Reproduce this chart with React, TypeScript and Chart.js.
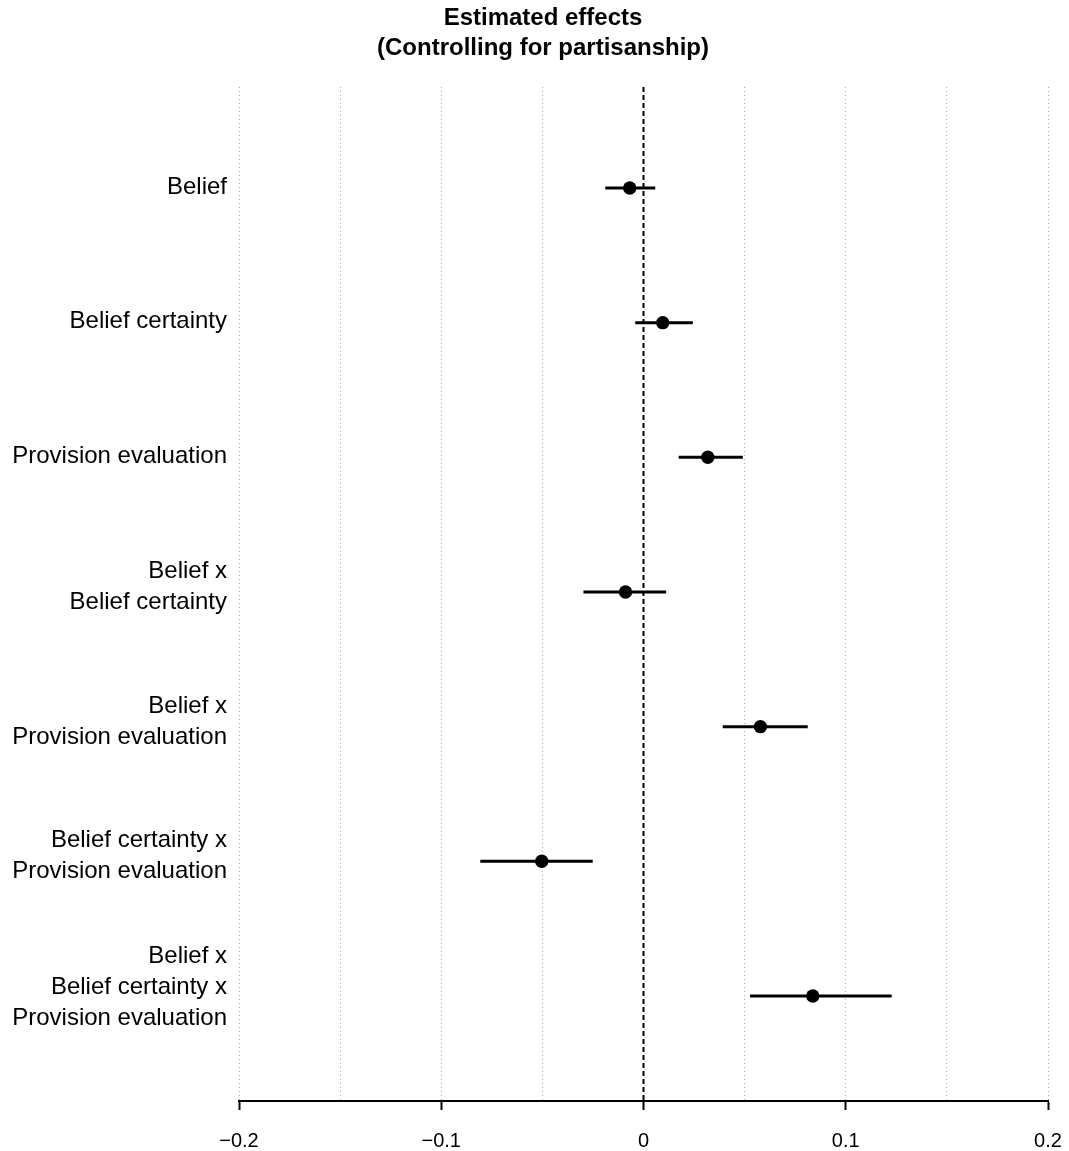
import React, { useEffect, useRef } from 'react';
import { Chart, registerables } from 'chart.js';

Chart.register(...registerables);

const titleLines = ['Estimated effects', '(Controlling for partisanship)'];
const termLabels: string[][] = [
  ['Belief'],
  ['Belief certainty'],
  ['Provision evaluation'],
  ['Belief x', 'Belief certainty'],
  ['Belief x', 'Provision evaluation'],
  ['Belief certainty x', 'Provision evaluation'],
  ['Belief x', 'Belief certainty x', 'Provision evaluation'],
];
const estimates = [-0.0068, 0.0095, 0.0318, -0.0089, 0.0578, -0.0503, 0.0837];
const lowerCI = [-0.0189, -0.0041, 0.0174, -0.0297, 0.0392, -0.0807, 0.0527];
const upperCI = [0.0058, 0.0244, 0.0491, 0.0112, 0.0812, -0.0251, 0.1227];
const gridValues = [-0.2, -0.15, -0.1, -0.05, 0, 0.05, 0.1, 0.15, 0.2];
const tickValues = [-0.2, -0.1, 0, 0.1, 0.2];
const tickLabels = ['\u22120.2', '\u22120.1', '0', '0.1', '0.2'];
const rowPositions = [1, 2, 3, 4, 5, 6, 7];

const FONT = '"Liberation Sans", Arial, Helvetica, sans-serif';

function tickIndex(v: number) {
  return tickValues.findIndex((t) => Math.abs(t - v) < 1e-9);
}

const zeroLinePlugin = {
  id: 'zeroLine',
  beforeDatasetsDraw(chart: any) {
    const { ctx, chartArea, scales } = chart;
    const x = scales.x.getPixelForValue(0);
    ctx.save();
    ctx.strokeStyle = '#000';
    ctx.lineWidth = 2;
    ctx.setLineDash([5, 3]);
    ctx.beginPath();
    ctx.moveTo(x, chartArea.top);
    ctx.lineTo(x, chartArea.bottom);
    ctx.stroke();
    ctx.restore();
  },
};

const textPlugin = {
  id: 'texts',
  afterDraw(chart: any) {
    const { ctx, chartArea, scales } = chart;
    ctx.save();
    ctx.fillStyle = '#000';
    // title
    ctx.font = `bold 24px ${FONT}`;
    ctx.textAlign = 'center';
    ctx.textBaseline = 'middle';
    titleLines.forEach((line, k) => ctx.fillText(line, 543, 18 + k * 30));
    // row labels
    ctx.font = `24px ${FONT}`;
    ctx.textAlign = 'right';
    const lh = 31;
    rowPositions.forEach((row, i) => {
      const lines = termLabels[i];
      const n = lines.length;
      const y = scales.y.getPixelForValue(row);
      const center = y - 1 - (n - 1) * 4;
      lines.forEach((line, k) => {
        ctx.fillText(line, chartArea.left - 12, center + (k - (n - 1) / 2) * lh);
      });
    });
    ctx.restore();
  },
};

export default function App() {
  const canvasRef = useRef<HTMLCanvasElement>(null);

  useEffect(() => {
    if (!canvasRef.current) return;
    const ciDatasets = rowPositions.map((row, i) => ({
      type: 'line' as const,
      data: [
        { x: lowerCI[i], y: row },
        { x: upperCI[i], y: row },
      ],
      borderColor: '#000',
      borderWidth: 3,
      pointRadius: 0,
      showLine: true,
      fill: false,
    }));
    const chart = new Chart(canvasRef.current, {
      type: 'scatter',
      data: {
        datasets: [
          {
            type: 'scatter',
            data: rowPositions.map((row, i) => ({ x: estimates[i], y: row })),
            backgroundColor: '#000',
            borderColor: '#000',
            borderWidth: 0,
            pointRadius: 6.7,
          },
          ...ciDatasets,
        ] as any,
      },
      options: {
        animation: false,
        responsive: false,
        maintainAspectRatio: false,
        layout: { padding: { left: 239, right: 21, top: 87, bottom: 0 } },
        plugins: {
          legend: { display: false },
          tooltip: { enabled: false },
          title: { display: false },
        },
        scales: {
          x: {
            type: 'linear',
            min: -0.2,
            max: 0.2,
            afterBuildTicks: (scale: any) => {
              scale.ticks = gridValues.map((v) => ({ value: v }));
            },
            afterFit: (scale: any) => {
              scale.height = 50;
              scale.paddingLeft = 0;
              scale.paddingRight = 0;
            },
            ticks: {
              autoSkip: false,
              maxRotation: 0,
              color: '#000',
              padding: 19,
              font: { family: FONT, size: 20 },
              callback: (v: any) => {
                const idx = tickIndex(Number(v));
                return idx >= 0 ? tickLabels[idx] : '';
              },
            },
            grid: {
              display: true,
              drawOnChartArea: true,
              drawTicks: true,
              tickLength: 9,
              tickWidth: 2,
              color: '#a8a8a8',
              lineWidth: 1,
              tickBorderDash: [],
              tickColor: (ctx: any) =>
                ctx.tick && tickIndex(ctx.tick.value) >= 0 ? '#000' : 'rgba(0,0,0,0)',
            } as any,
            border: { display: true, color: '#000', width: 2, dash: [1, 3] },
          },
          y: {
            type: 'linear',
            display: false,
            reverse: true,
            min: 0.25,
            max: 7.78,
          },
        },
      } as any,
      plugins: [zeroLinePlugin, textPlugin],
    });
    return () => chart.destroy();
  }, []);

  return (
    <div style={{ position: 'absolute', left: 0, top: 0, width: 1069, height: 1151, background: '#fff' }}>
      <canvas ref={canvasRef} width={1069} height={1151} style={{ width: 1069, height: 1151 }} />
    </div>
  );
}
